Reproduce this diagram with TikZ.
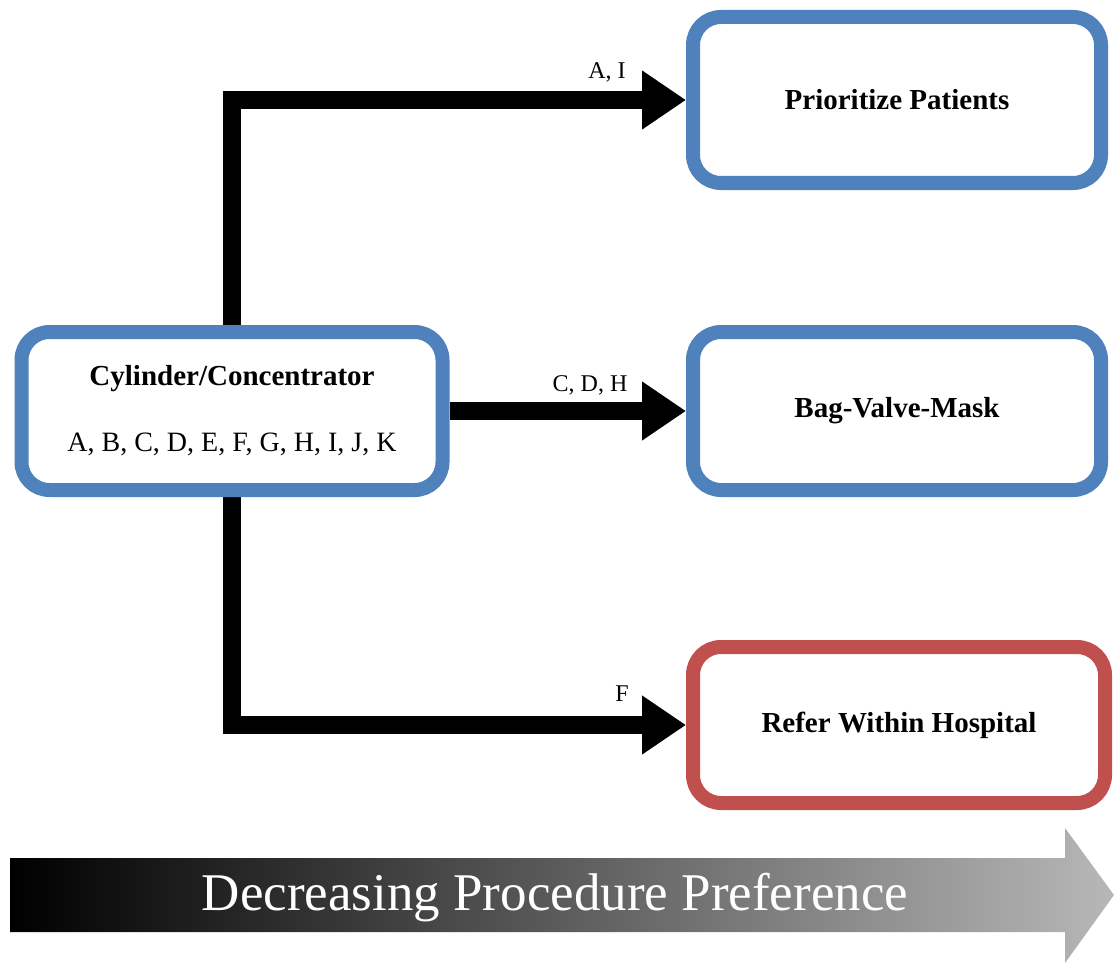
\documentclass[tikz,border=0pt]{standalone}
\usepackage{fontspec}
\setmainfont{Liberation Serif}
\usetikzlibrary{arrows.meta,backgrounds}
\definecolor{boxblue}{RGB}{79,129,189}
\definecolor{boxred}{RGB}{192,80,77}
\tikzset{
  choice/.style={draw=boxblue, line width=14pt, rounded corners=28pt, fill=white,
    align=center, font=\fontsize{29}{32}\selectfont\bfseries},
  lastchoice/.style={choice, draw=boxred},
  flow/.style={line width=18pt, -{Triangle[length=44pt, width=56pt]}},
  tag/.style={font=\fontsize{24}{26}\selectfont, inner sep=0pt},
}
\begin{document}
\begin{tikzpicture}[x=1pt,y=-1pt]
\useasboundingbox (0,0) rectangle (1114,963);

% source and target boxes
\node[choice, minimum width=421pt, minimum height=158pt] (src) at (232,411)
  {Cylinder/Concentrator\\[34pt]\mdseries\fontsize{28}{32}\selectfont A, B, C, D, E, F, G, H, I, J, K};
\node[choice, minimum width=408pt, minimum height=166pt] (pp) at (897,100) {Prioritize Patients};
\node[choice, minimum width=408pt, minimum height=158pt] (bvm) at (897,411) {Bag-Valve-Mask};
\node[lastchoice, minimum width=412pt, minimum height=156pt] (rw) at (899,725) {Refer Within Hospital};

% connectors behind the boxes
\begin{pgfonlayer}{background}
  \draw[flow] (src.north) |- (pp.west);
  \draw[flow] (src.east) -- (bvm.west);
  \draw[flow] (src.south) |- (rw.west);
\end{pgfonlayer}

% connector labels
\node[tag, anchor=base] (lai) at (607,79) {A, I};
\node[tag, anchor=base] (lcdh) at (590,391) {C, D, H};
\node[tag, anchor=base] (lf) at (622,701) {F};

% preference scale arrow
\shade[left color=black, right color=black!28]
  (10,858) -- (1065,858) -- (1065,828) -- (1114,895) -- (1065,963) -- (1065,932) -- (10,932) -- cycle;
\node[text=white, font=\fontsize{53}{60}\selectfont] (scale) at (555,898) {Decreasing Procedure Preference};
\end{tikzpicture}
\end{document}
